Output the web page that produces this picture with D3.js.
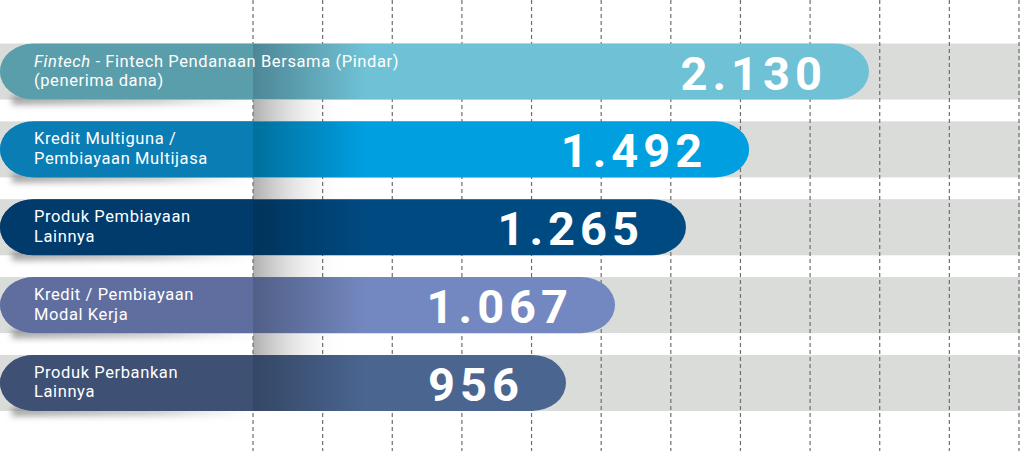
<!DOCTYPE html>
<html lang="en">
<head>
<meta charset="UTF-8">
<title>Produk</title>
<script src="https://cdn.jsdelivr.net/npm/d3@7"></script>
<style>
  body { margin: 0; background: #fff; }
  svg { display: block; }
</style>
</head>
<body>
<div id="chart"></div>
<script>
// data
var categories = [
    "Fintech - Fintech Pendanaan Bersama (Pindar)\n(penerima dana)",
    "Kredit Multiguna /\nPembiayaan Multijasa",
    "Produk Pembiayaan\nLainnya",
    "Kredit / Pembiayaan\nModal Kerja",
    "Produk Perbankan\nLainnya"
];
var values = [2130, 1492, 1265, 1067, 956];
var colorsRight = ["#6fc1d5", "#009fe0", "#004a82", "#7388c0", "#4a6590"];
var colorsLeft  = ["#5a9dab", "#0a7db5", "#003b6c", "#5f6e9f", "#3e5073"];
var italicWord = "Fintech";
var gridCount = 12;

var width = 1020,
    height = 451,
    tabEnd = 253;

var svg = d3.select("#chart").append("svg")
    .attr("width", width)
    .attr("height", height);

var defs = svg.append("defs");

// rows
var y = d3.scaleBand()
    .domain(categories)
    .range([43.5, 411])
    .paddingInner(0.28);

// bar length (the picture is not linear, this curve follows it)
var x = d3.scalePow()
    .exponent(-0.5)
    .domain(d3.extent(values))
    .range([566, 869]);

// grid lines
var gx = d3.scaleLinear()
    .domain([0, gridCount - 1])
    .range([tabEnd, 1019]);

var fmt = d3.formatLocale({ decimal: ",", thousands: ".", grouping: [3], currency: ["", ""] }).format(",");

// gradients
var gapGrad = defs.append("linearGradient").attr("id", "gapGrad");
gapGrad.append("stop").attr("offset", "0%").attr("stop-color", "#9a9a9a").attr("stop-opacity", 0.8);
gapGrad.append("stop").attr("offset", "100%").attr("stop-color", "#ffffff").attr("stop-opacity", 0);

var foldGrad = defs.append("linearGradient").attr("id", "foldGrad");
foldGrad.append("stop").attr("offset", "0%").attr("stop-color", "#000").attr("stop-opacity", 0.3);
foldGrad.append("stop").attr("offset", "100%").attr("stop-color", "#000").attr("stop-opacity", 0);

var blur = defs.append("filter").attr("id", "blur")
    .attr("x", "-20%").attr("y", "-100%").attr("width", "140%").attr("height", "300%");
blur.append("feGaussianBlur").attr("stdDeviation", 3);

var shadowGrad = defs.append("linearGradient").attr("id", "shadowGrad");
shadowGrad.append("stop").attr("offset", "0%").attr("stop-color", "#777").attr("stop-opacity", 0.7);
shadowGrad.append("stop").attr("offset", "60%").attr("stop-color", "#999").attr("stop-opacity", 0.5);
shadowGrad.append("stop").attr("offset", "100%").attr("stop-color", "#bbb").attr("stop-opacity", 0);

function pill(x0, x1, top, h) {
    var rx = 34, ry = h / 2;
    return "M" + (x0 + rx) + "," + top +
        "H" + (x1 - rx) +
        "A" + rx + "," + ry + " 0 0 1 " + x1 + "," + (top + ry) +
        "A" + rx + "," + ry + " 0 0 1 " + (x1 - rx) + "," + (top + h) +
        "H" + (x0 + rx) +
        "A" + rx + "," + ry + " 0 0 1 " + x0 + "," + (top + ry) +
        "A" + rx + "," + ry + " 0 0 1 " + (x0 + rx) + "," + top + "Z";
}

var h = y.bandwidth();

// gray tracks
svg.append("g").selectAll("rect")
    .data(categories)
    .enter().append("rect")
    .attr("x", 0)
    .attr("y", function(d) { return y(d); })
    .attr("width", width)
    .attr("height", h)
    .attr("fill", "#d9dcd9");

// fold shade in the gaps
svg.append("g").selectAll("rect")
    .data(categories.slice(0, -1))
    .enter().append("rect")
    .attr("x", tabEnd)
    .attr("y", function(d) { return y(d) + h; })
    .attr("width", 95)
    .attr("height", y.step() - h)
    .attr("fill", "url(#gapGrad)");

// drop shadows below the tabs
svg.append("g").selectAll("rect")
    .data(categories)
    .enter().append("rect")
    .attr("x", 12)
    .attr("y", function(d) { return y(d) + h - 4; })
    .attr("width", tabEnd - 10)
    .attr("height", 9)
    .attr("fill", "url(#shadowGrad)")
    .attr("filter", "url(#blur)");

// grid
svg.append("g").selectAll("line")
    .data(d3.range(gridCount))
    .enter().append("line")
    .attr("x1", function(d) { return gx(d); })
    .attr("x2", function(d) { return gx(d); })
    .attr("y1", 0)
    .attr("y2", height)
    .attr("stroke", "#6e6e6e")
    .attr("stroke-width", 1.2)
    .attr("stroke-dasharray", "4,3");

// bars
var rows = svg.append("g").selectAll("g")
    .data(categories)
    .enter().append("g");

rows.each(function(d, i) {
    var g = d3.select(this);
    var top = y(d);
    var shape = pill(0, x(values[i]), top, h);

    defs.append("clipPath").attr("id", "clip" + i)
        .append("path").attr("d", shape);

    g.append("path")
        .attr("d", shape)
        .attr("fill", colorsRight[i]);

    var inner = g.append("g").attr("clip-path", "url(#clip" + i + ")");
    inner.append("rect")
        .attr("x", 0).attr("y", top)
        .attr("width", tabEnd).attr("height", h)
        .attr("fill", colorsLeft[i]);
    inner.append("rect")
        .attr("x", tabEnd).attr("y", top)
        .attr("width", 112).attr("height", h)
        .attr("fill", "url(#foldGrad)");

    // category label
    var lines = d.split("\n");
    var t = g.append("text")
        .attr("x", 34)
        .attr("y", top + h / 2 - 5)
        .attr("fill", "#fff")
        .style("font-family", "Roboto, 'Noto Sans', sans-serif")
        .style("font-size", "16.5px")
        .style("letter-spacing", "0.6px");
    lines.forEach(function(line, k) {
        var ts = t.append("tspan")
            .attr("x", 34)
            .attr("dy", k === 0 ? 0 : 19.5);
        if (k === 0 && line.indexOf(italicWord + " -") === 0) {
            ts.append("tspan").style("font-style", "italic").text(italicWord);
            ts.append("tspan").text(line.slice(italicWord.length));
        } else {
            ts.text(line);
        }
    });

    // value
    g.append("text")
        .attr("x", x(values[i]) - 42)
        .attr("y", top + h / 2 + 18)
        .attr("text-anchor", "end")
        .attr("fill", "#fff")
        .style("font-family", "Roboto, sans-serif")
        .style("font-weight", 700)
        .style("font-size", "47px")
        .style("letter-spacing", "5px")
        .text(fmt(values[i]));
});
</script>
</body>
</html>
